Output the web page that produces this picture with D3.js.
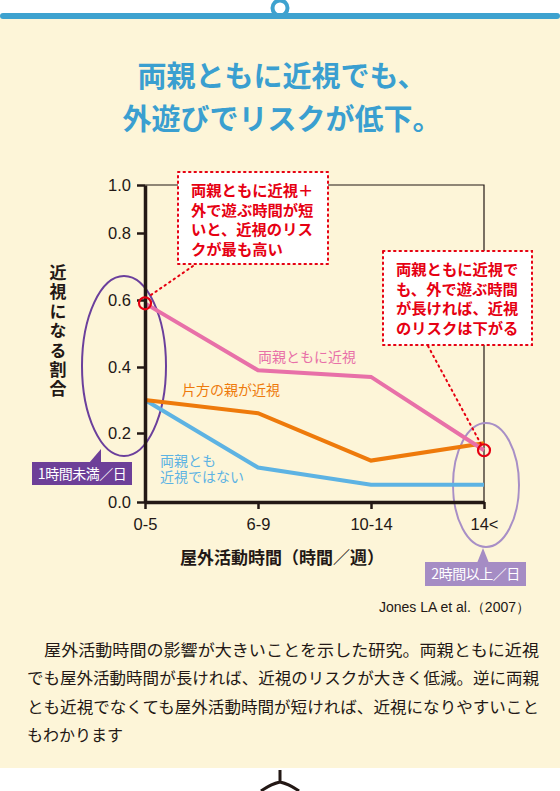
<!DOCTYPE html>
<html>
<head>
<meta charset="utf-8">
<script src="https://cdn.jsdelivr.net/npm/d3@7"></script>
<style>
  body { margin: 0; background: #fff; }
  svg { display: block; }
</style>
</head>
<body>
<svg width="560" height="791"></svg>
<script>
// data
const categories = ["0-5", "6-9", "10-14", "14<"];
const bothParents = [0.59, 0.39, 0.37, 0.15];
const oneParent = [0.30, 0.26, 0.12, 0.17];
const neitherParent = [0.30, 0.10, 0.05, 0.05];
const yTicks = [0, 0.2, 0.4, 0.6, 0.8, 1.0];

const titleLines = ["両親ともに近視でも、", "外遊びでリスクが低下。"];
const note1 = ["両親ともに近視＋", "外で遊ぶ時間が短", "いと、近視のリス", "クが最も高い"];
const note2 = ["両親ともに近視で", "も、外で遊ぶ時間", "が長ければ、近視", "のリスクは下がる"];
const bodyLines = [
  "　屋外活動時間の影響が大きいことを示した研究。両親ともに近視",
  "でも屋外活動時間が長ければ、近視のリスクが大きく低減。逆に両親",
  "とも近視でなくても屋外活動時間が短ければ、近視になりやすいこと",
  "もわかります"
];

const jp = "'Noto Sans CJK JP', 'Noto Sans', sans-serif";
const num = "'Liberation Sans', Arial, sans-serif";
const ink = "#231815";
const red = "#e60012";

const svg = d3.select("svg");

// background panel + header
svg.append("rect").attr("x", 0).attr("y", 16).attr("width", 560).attr("height", 752).attr("fill", "#fdf5d8");
svg.append("circle").attr("cx", 280).attr("cy", 8).attr("r", 7.5)
    .attr("fill", "none").attr("stroke", "#3ea2cf").attr("stroke-width", 4);
svg.append("rect").attr("x", 0).attr("y", 13).attr("width", 560).attr("height", 6).attr("rx", 3)
    .attr("fill", "#3ea2cf");

// bottom mark
svg.append("path")
    .attr("d", "M280,770 L280,782 M261,791 Q271,784 280,782 Q289,784 299,791")
    .attr("fill", "none").attr("stroke", ink).attr("stroke-width", 3);

svg.append("g").selectAll("text")
    .data(titleLines)
    .join("text")
      .attr("x", 282)
      .attr("y", (d, i) => 87 + i * 43)
      .attr("text-anchor", "middle")
      .attr("font-family", jp)
      .attr("font-weight", "bold")
      .attr("font-size", 29)
      .attr("fill", "#3a9fd0")
      .text(d => d);

// scales
const x = d3.scalePoint().domain(categories).range([145, 484]);
const y = d3.scaleLinear().domain(yTicks).range([502, 433, 367, 300, 233, 185]);

// frame top / right
svg.append("path")
    .attr("d", `M${x.range()[0]},${y(1)} H${x.range()[1]} V${y(0)}`)
    .attr("fill", "none").attr("stroke", ink).attr("stroke-width", 1.2);

// ellipses behind the lines
svg.append("ellipse").attr("cx", 124).attr("cy", 366).attr("rx", 42).attr("ry", 90)
    .attr("fill", "none").attr("stroke", "#6b3f9c").attr("stroke-width", 2);
svg.append("ellipse").attr("cx", 486).attr("cy", 485).attr("rx", 33).attr("ry", 62)
    .attr("fill", "none").attr("stroke", "#a88fc6").attr("stroke-width", 2);

// series
const series = [
  { values: neitherParent, color: "#5db3e3" },
  { values: oneParent, color: "#ee7a0b" },
  { values: bothParents, color: "#e870a8" }
];
const line = d3.line().x((d, i) => x(categories[i])).y(d => y(d));
svg.append("g").selectAll("path")
    .data(series)
    .join("path")
      .attr("d", d => line(d.values))
      .attr("fill", "none")
      .attr("stroke", d => d.color)
      .attr("stroke-width", 4);

// axes
const yAxis = svg.append("g")
    .attr("transform", `translate(${x.range()[0]},0)`)
    .call(d3.axisLeft(y).tickValues(yTicks).tickFormat(d3.format(".1f")).tickSize(8).tickSizeOuter(0).tickPadding(6));
const xAxis = svg.append("g")
    .attr("transform", `translate(0,${y(0)})`)
    .call(d3.axisBottom(x).tickSize(7).tickSizeOuter(0).tickPadding(9));
[yAxis, xAxis].forEach(ax => {
  ax.select(".domain").attr("stroke", ink).attr("stroke-width", 3.5);
  ax.selectAll(".tick line").attr("stroke", ink).attr("stroke-width", 2.5);
  ax.selectAll(".tick text").attr("fill", ink).attr("font-family", num).attr("font-size", 16.5);
});

// axis titles
svg.append("text")
    .attr("x", 58)
    .attr("y", 264)
    .attr("writing-mode", "vertical-rl")
    .attr("letter-spacing", 2.4)
    .attr("font-family", jp).attr("font-weight", "bold").attr("font-size", 17)
    .attr("fill", ink)
    .text("近視になる割合");
svg.append("text")
    .attr("x", 282).attr("y", 564)
    .attr("text-anchor", "middle")
    .attr("font-family", jp).attr("font-weight", "bold").attr("font-size", 17)
    .attr("fill", ink)
    .text("屋外活動時間（時間／週）");

// multi-line text as one element
function multiText(x0, y0, lh, lines) {
  const t = svg.append("text").attr("x", x0).attr("y", y0);
  t.selectAll("tspan")
      .data(lines)
      .join("tspan")
        .attr("x", x0)
        .attr("dy", (d, i) => i ? lh : 0)
        .text(d => d);
  return t;
}

// series labels
svg.append("text").attr("x", 258).attr("y", 362)
    .attr("font-family", jp).attr("font-size", 14).attr("fill", "#e870a8").text("両親ともに近視");
svg.append("text").attr("x", 182).attr("y", 395)
    .attr("font-family", jp).attr("font-size", 14).attr("fill", "#ee7a0b").text("片方の親が近視");
multiText(160, 466, 16, ["両親とも", "近視ではない"])
    .attr("font-family", jp).attr("font-size", 14).attr("fill", "#5db3e3");

// annotation leaders
svg.append("line").attr("x1", 193).attr("y1", 266).attr("x2", 148).attr("y2", 297)
    .attr("stroke", red).attr("stroke-width", 2).attr("stroke-dasharray", "1.5,4").attr("stroke-linecap", "round");
svg.append("line").attr("x1", 428).attr("y1", 346).attr("x2", 482).attr("y2", 446)
    .attr("stroke", red).attr("stroke-width", 2).attr("stroke-dasharray", "1.5,4").attr("stroke-linecap", "round");

// annotation boxes
function noteBox(x0, y0, w, h, lines) {
  svg.append("rect").attr("x", x0).attr("y", y0).attr("width", w).attr("height", h)
      .attr("fill", "#fff").attr("stroke", red).attr("stroke-width", 2)
      .attr("stroke-dasharray", "1.5,4").attr("stroke-linecap", "round");
  multiText(x0 + 13, y0 + 24, 19.5, lines)
      .attr("font-family", jp).attr("font-weight", "bold").attr("font-size", 15.3)
      .attr("fill", red);
}
noteBox(178, 172, 150, 92, note1);
noteBox(383, 251, 149, 94, note2);

// red markers
svg.append("g").selectAll("circle")
    .data([[categories[0], bothParents[0]], [categories[3], bothParents[3]]])
    .join("circle")
      .attr("cx", d => x(d[0])).attr("cy", d => y(d[1])).attr("r", 6)
      .attr("fill", "none").attr("stroke", red).attr("stroke-width", 2.2);

// time tags
function tag(x0, y0, w, h, tipX, tipY, baseL, baseR, color, label) {
  svg.append("path")
      .attr("d", `M${baseL},${y0 + 1} L${tipX},${tipY} L${baseR},${y0 + 1} Z`)
      .attr("fill", color);
  svg.append("rect").attr("x", x0).attr("y", y0).attr("width", w).attr("height", h).attr("fill", color);
  svg.append("text").attr("x", x0 + w / 2).attr("y", y0 + h / 2 + 5)
      .attr("text-anchor", "middle")
      .attr("font-family", jp).attr("font-size", 14).attr("fill", "#fff")
      .attr("letter-spacing", -0.5)
      .text(label);
}
tag(32, 462, 100, 23, 101, 449, 89, 101, "#6d3f98", "1時間未満／日");
tag(425, 562, 101, 24, 483, 548, 477, 489, "#a58cc4", "2時間以上／日");

// source
svg.append("text").attr("x", 530).attr("y", 612)
    .attr("text-anchor", "end")
    .attr("font-family", num).attr("font-size", 14).attr("fill", ink)
    .text("Jones LA et al.（2007）");

// body text
svg.append("g").selectAll("text")
    .data(bodyLines)
    .join("text")
      .attr("x", 27)
      .attr("y", (d, i) => 656 + i * 28.3)
      .attr("font-family", jp).attr("font-size", 16).attr("fill", ink)
      .attr("textLength", (d, i) => i < 3 ? 512 : null)
      .attr("lengthAdjust", "spacingAndGlyphs")
      .text(d => d);
</script>
</body>
</html>
